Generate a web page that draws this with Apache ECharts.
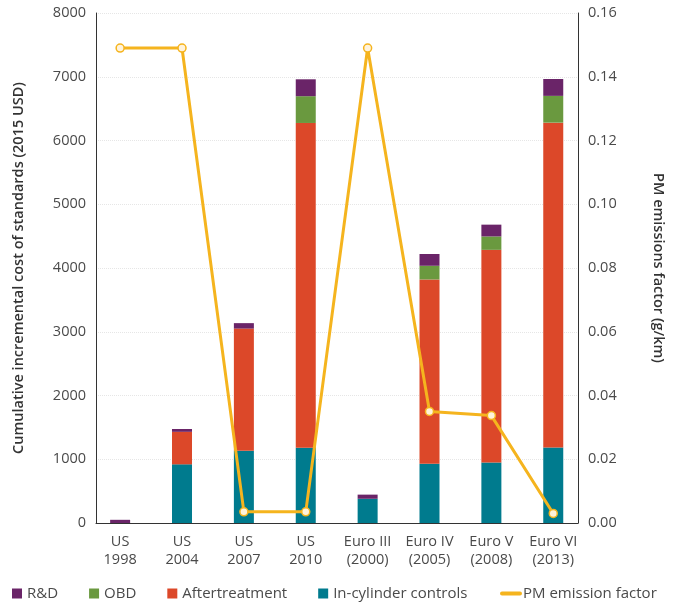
<!DOCTYPE html>
<html>
<head>
<meta charset="utf-8">
<script src="https://cdn.jsdelivr.net/npm/echarts@6/dist/echarts.min.js"></script>
<style>html,body{margin:0;padding:0;background:#fff}#c{width:674px;height:607px}</style>
</head>
<body>
<div id="c"></div>
<script>
const categories = ['US\n1998','US\n2004','US\n2007','US\n2010','Euro III\n(2000)','Euro IV\n(2005)','Euro V\n(2008)','Euro VI\n(2013)'];
const inCylinder = [0, 920, 1135, 1180, 380, 930, 950, 1185];
const aftertreatment = [0, 510, 1915, 5095, 0, 2890, 3335, 5095];
const obd = [0, 0, 0, 420, 0, 215, 210, 420];
const rnd = [50, 45, 85, 265, 65, 185, 185, 265];
const pmFactor = [0.149, 0.149, 0.0035, 0.0035, 0.149, 0.035, 0.0337, 0.003];
const leftTicks = [0, 8000, 1000];
const rightTicks = [0, 0.16, 0.02];

const FONT = 'Open Sans';
const TXT = '#4a4a4a';
// [value, categoryIndex]
const toPairs = arr => arr.map((v, i) => [v, i]);

const chart = echarts.init(document.getElementById('c'), null, {renderer: 'canvas'});
const barCommon = {type: 'bar', stack: 'cost', barWidth: 20, xAxisIndex: 0, yAxisIndex: 0, encode: {x: 1, y: 0}};
chart.setOption({
  animation: false,
  textStyle: {fontFamily: FONT},
  grid: {left: 96, right: 96, top: 13, bottom: 84, containLabel: false},
  legend: [{
    left: 12, bottom: 6, padding: 0, itemWidth: 10, itemHeight: 10, itemGap: 31, icon: 'rect',
    textStyle: {fontFamily: FONT, fontSize: 15, color: TXT},
    data: ['R&D', 'OBD', 'Aftertreatment', 'In-cylinder controls']
  }, {
    left: 500, bottom: 6, padding: 0, itemWidth: 22, itemHeight: 4,
    textStyle: {fontFamily: FONT, fontSize: 15, color: TXT, padding: [0, 0, 0, -4]},
    data: [{name: 'PM emission factor', icon: 'path://M2,0H20A2,2 0 0 1 20,4H2A2,2 0 0 1 2,0Z', itemStyle: {color: '#f5b41e', borderWidth: 0}}]
  }],
  xAxis: {
    type: 'value', min: -0.39, max: 7.4,
    splitLine: {show: false},
    axisTick: {show: false},
    axisLine: {show: true, onZero: false, lineStyle: {color: '#333', width: 1}},
    axisLabel: {
      customValues: [0, 1, 2, 3, 4, 5, 6, 7],
      formatter: v => categories[Math.round(v)],
      fontFamily: FONT, fontSize: 14.5, color: TXT, lineHeight: 18, margin: 10
    }
  },
  yAxis: [{
    type: 'value', min: leftTicks[0], max: leftTicks[1], interval: leftTicks[2],
    position: 'left',
    name: 'Cumulative incremental cost of standards (2015 USD)',
    nameLocation: 'middle', nameGap: 70, nameRotate: 90,
    nameTextStyle: {fontFamily: FONT, fontSize: 14.5, color: '#333', fontWeight: 600},
    axisLine: {show: true, onZero: false, lineStyle: {color: '#333', width: 1}},
    axisTick: {show: false},
    axisLabel: {fontFamily: FONT, fontSize: 14.5, color: TXT, margin: 10, formatter: v => String(v)},
    splitLine: {show: true, lineStyle: {color: '#e6e6e6', type: 'dotted', width: 1}}
  }, {
    type: 'value', min: rightTicks[0], max: rightTicks[1], interval: rightTicks[2],
    position: 'right',
    name: 'PM emissions factor (g/km)',
    nameLocation: 'middle', nameGap: 73, nameRotate: -90,
    nameTextStyle: {fontFamily: FONT, fontSize: 14.5, color: '#333', fontWeight: 600},
    axisLine: {show: true, onZero: false, lineStyle: {color: '#333', width: 1}},
    axisTick: {show: false},
    axisLabel: {fontFamily: FONT, fontSize: 14.5, color: TXT, margin: 10, formatter: v => v.toFixed(2)},
    splitLine: {show: false}
  }],
  series: [
    Object.assign({}, barCommon, {name: 'In-cylinder controls', data: toPairs(inCylinder), itemStyle: {color: '#007b8e'}}),
    Object.assign({}, barCommon, {name: 'Aftertreatment', data: toPairs(aftertreatment), itemStyle: {color: '#dc4829'}}),
    Object.assign({}, barCommon, {name: 'OBD', data: toPairs(obd), itemStyle: {color: '#6a993f'}}),
    Object.assign({}, barCommon, {name: 'R&D', data: toPairs(rnd), itemStyle: {color: '#6a2468'}}),
    {
      name: 'PM emission factor', type: 'line', xAxisIndex: 0, yAxisIndex: 1,
      data: toPairs(pmFactor), encode: {x: 1, y: 0}, z: 5,
      lineStyle: {color: '#f5b41e', width: 3},
      itemStyle: {color: '#fff3dc', borderColor: '#f5b41e', borderWidth: 1.5},
      symbol: 'circle', symbolSize: 8, showSymbol: true
    }
  ]
});
</script>
</body>
</html>
